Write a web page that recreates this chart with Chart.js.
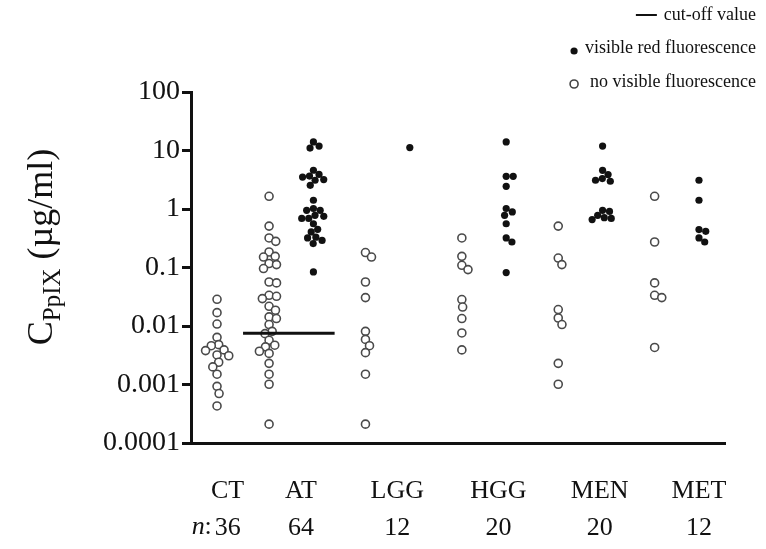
<!DOCTYPE html>
<html>
<head>
<meta charset="utf-8">
<script src="https://cdn.jsdelivr.net/npm/chart.js@4/dist/chart.umd.min.js"></script>
<style>
  html, body { margin: 0; padding: 0; background: #fff; }
  #wrap { width: 766px; height: 549px; }
</style>
</head>
<body>
<div id="wrap"><canvas id="chart" width="766" height="549"></canvas></div>
<script>
// groups along the x axis and number of samples
const categories = ['CT', 'AT', 'LGG', 'HGG', 'MEN', 'MET'];
const counts = [36, 64, 12, 20, 20, 12];
const yTicks = [0.0001, 0.001, 0.01, 0.1, 1, 10, 100];
const yTickLabels = ['0.0001', '0.001', '0.01', '0.1', '1', '10', '100'];
const cutoffValue = 0.0075;

// CPpIX (ug/ml), no visible fluorescence (open circles)
const ctNone = [0.0286, 0.0169, 0.0108, 0.0064, 0.0048, 0.0046, 0.0039, 0.0038, 0.0032, 0.0031, 0.0024, 0.0020, 0.0015, 0.00093, 0.0007, 0.00043];
const atNone = [1.65, 0.51, 0.32, 0.28, 0.184, 0.155, 0.151, 0.117, 0.112, 0.096, 0.0565, 0.0545, 0.0335, 0.0322, 0.0294, 0.0217, 0.0186, 0.0143, 0.0134, 0.0106, 0.0081, 0.0074, 0.0057, 0.0047, 0.0044, 0.0037, 0.0034, 0.0023, 0.0015, 0.00101, 0.00021];
const lggNone = [0.18, 0.151, 0.0565, 0.0306, 0.0081, 0.0059, 0.0046, 0.0035, 0.0015, 0.00021];
const hggNone = [0.32, 0.155, 0.109, 0.092, 0.0283, 0.0211, 0.0134, 0.0076, 0.0039];
const menNone = [0.51, 0.145, 0.112, 0.0191, 0.0137, 0.0106, 0.0023, 0.00101];
const metNone = [1.65, 0.273, 0.0545, 0.0335, 0.0306, 0.0043];

// visible red fluorescence (filled dots)
const atRed = [14.0, 11.9, 11.0, 4.6, 3.9, 3.66, 3.52, 3.18, 3.1, 2.54, 1.41, 1.02, 0.95, 0.95, 0.78, 0.75, 0.69, 0.69, 0.56, 0.45, 0.405, 0.33, 0.32, 0.29, 0.256, 0.084];
const lggRed = [11.2];
const hggRed = [14.0, 3.62, 3.62, 2.44, 1.02, 0.89, 0.78, 0.56, 0.32, 0.273, 0.082];
const menRed = [11.9, 4.59, 3.87, 3.31, 3.1, 2.98, 0.95, 0.91, 0.78, 0.71, 0.69, 0.66];
const metRed = [3.1, 1.41, 0.445, 0.415, 0.32, 0.273];

const noneGroups = [ctNone, atNone, lggNone, hggNone, menNone, metNone];
const redGroups = [[], atRed, lggRed, hggRed, menRed, metRed];

// column slots: open left of the category, filled right; CT only has one column
const openCol = i => (i === 0 ? 0.23 : i - 0.23);
const redCol = i => i + 0.23;
const labelPos = [0.34, 1.1, 2.1, 3.15, 4.2, 5.23];

const serif = '"Liberation Serif", "DejaVu Serif", serif';
const target = { left: 191, top: 92, right: 725, bottom: 443 };

function toPoints(groups, colFn) {
  const pts = [];
  groups.forEach((vals, i) => vals.forEach(v => pts.push({ x: colFn(i), y: v, col: colFn(i) })));
  return pts;
}

// simple beeswarm: nudge points sideways so they do not overlap
function swarm(chart) {
  const xs = chart.scales.x, ys = chart.scales.y;
  const unit = xs.getPixelForValue(1) - xs.getPixelForValue(0);
  chart.data.datasets.forEach(ds => {
    if (!ds.swarmSize) return;
    const d = ds.swarmSize;
    const cols = {};
    ds.data.forEach(p => { (cols[p.col] = cols[p.col] || []).push(p); });
    Object.values(cols).forEach(list => {
      list.sort((a, b) => b.y - a.y);
      const placed = [];
      list.forEach(p => {
        const py = ys.getPixelForValue(p.y);
        const near = placed.filter(q => Math.abs(q.py - py) < d);
        const cands = [0];
        near.forEach(q => {
          const dx = Math.sqrt(d * d - (q.py - py) ** 2);
          cands.push(q.dx + dx, q.dx - dx);
        });
        cands.sort((a, b) => Math.abs(a) - Math.abs(b));
        const ok = cands.find(c => near.every(q => Math.hypot(q.dx - c, q.py - py) >= d - 0.01));
        const dx = ok === undefined ? 0 : ok;
        placed.push({ py, dx });
        p.x = p.col + dx / unit;
      });
    });
  });
}

const decor = {
  id: 'decor',
  afterDraw(chart) {
    const ctx = chart.ctx;
    ctx.save();
    ctx.fillStyle = '#111';
    ctx.strokeStyle = '#111';

    // legend, top right
    ctx.font = '18px ' + serif;
    ctx.textAlign = 'right';
    ctx.textBaseline = 'middle';
    const rx = 756;
    ctx.fillText('cut-off value', rx, 15);
    ctx.lineWidth = 2;
    const w1 = ctx.measureText('cut-off value').width;
    ctx.beginPath();
    ctx.moveTo(rx - w1 - 28, 15);
    ctx.lineTo(rx - w1 - 7, 15);
    ctx.stroke();
    ctx.fillText('visible red fluorescence', rx, 48);
    const w2 = ctx.measureText('visible red fluorescence').width;
    const mx = rx - w2 - 11;
    ctx.beginPath();
    ctx.arc(mx, 51, 3.6, 0, Math.PI * 2);
    ctx.fill();
    ctx.fillText('no visible fluorescence', rx, 82);
    ctx.lineWidth = 1.6;
    ctx.strokeStyle = '#444';
    ctx.beginPath();
    ctx.arc(mx, 84, 4, 0, Math.PI * 2);
    ctx.stroke();

    // "n:" prefix before the first count
    const xs = chart.scales.x;
    ctx.textAlign = 'right';
    ctx.font = 'italic 26px ' + serif;
    const nx = xs.getPixelForValue(labelPos[0]) - 16;
    ctx.fillText('n', nx - 7, 527);
    ctx.font = '26px ' + serif;
    ctx.fillText(':', nx, 527);

    // y axis title with subscript
    ctx.translate(40, 247);
    ctx.rotate(-Math.PI / 2);
    ctx.textAlign = 'left';
    ctx.textBaseline = 'alphabetic';
    const big = '36px ' + serif, small = '25px ' + serif;
    ctx.font = big;
    const wc = ctx.measureText('C').width;
    const wu = ctx.measureText(' (\u00b5g/ml)').width;
    ctx.font = small;
    const ws = ctx.measureText('PpIX').width;
    const x0 = -(wc + ws + wu) / 2;
    ctx.font = big;
    ctx.fillText('C', x0, 12);
    ctx.font = small;
    ctx.fillText('PpIX', x0 + wc, 20);
    ctx.font = big;
    ctx.fillText(' (\u00b5g/ml)', x0 + wc + ws, 12);
    ctx.restore();
  }
};

const chart = new Chart(document.getElementById('chart'), {
  type: 'scatter',
  data: {
    datasets: [
      {
        type: 'line',
        label: 'cut-off value',
        data: [{ x: 0.5, y: cutoffValue }, { x: 1.45, y: cutoffValue }],
        borderColor: '#111',
        borderWidth: 3,
        pointRadius: 0,
        order: 0
      },
      {
        label: 'visible red fluorescence',
        data: toPoints(redGroups, redCol),
        backgroundColor: '#111',
        borderWidth: 0,
        pointRadius: 3.6,
        swarmSize: 7,
        order: 1
      },
      {
        label: 'no visible fluorescence',
        data: toPoints(noneGroups, openCol),
        backgroundColor: '#fff',
        borderColor: '#4a4a4a',
        borderWidth: 1.6,
        pointRadius: 4,
        swarmSize: 7.5,
        order: 2
      }
    ]
  },
  options: {
    responsive: false,
    animation: false,
    devicePixelRatio: 1,
    layout: { padding: { top: 92, right: 41, left: 0, bottom: 0 } },
    plugins: { legend: { display: false }, tooltip: { enabled: false } },
    scales: {
      x: {
        type: 'linear',
        min: -0.04,
        max: 5.5,
        afterFit: s => { s.height = 549 - target.bottom; },
        afterBuildTicks: s => { s.ticks = labelPos.map(v => ({ value: v })); },
        grid: { display: false, drawTicks: false },
        border: { display: true, width: 3, color: '#111' },
        ticks: {
          autoSkip: false,
          maxRotation: 0,
          padding: 30,
          color: '#111',
          font: { family: serif, size: 26, lineHeight: 1.42 },
          callback: (v, i) => [categories[i], String(counts[i])]
        }
      },
      y: {
        type: 'logarithmic',
        min: 0.0001,
        max: 100,
        afterFit: s => { s.width = target.left; },
        afterBuildTicks: s => { s.ticks = yTicks.map(v => ({ value: v })); },
        grid: { display: true, drawOnChartArea: false, drawTicks: true, tickLength: 9, lineWidth: 3, color: '#111' },
        border: { display: true, width: 3, color: '#111' },
        ticks: {
          padding: 2,
          color: '#111',
          font: { family: serif, size: 28 },
          callback: (v, i) => yTickLabels[i]
        }
      }
    }
  },
  plugins: [decor]
});

// pin the plot area to the reference frame, then lay out the swarm
const a = chart.chartArea, pad = chart.options.layout.padding;
pad.top += target.top - a.top;
pad.right += a.right - target.right;
chart.update('none');
swarm(chart);
chart.update('none');
</script>
</body>
</html>
